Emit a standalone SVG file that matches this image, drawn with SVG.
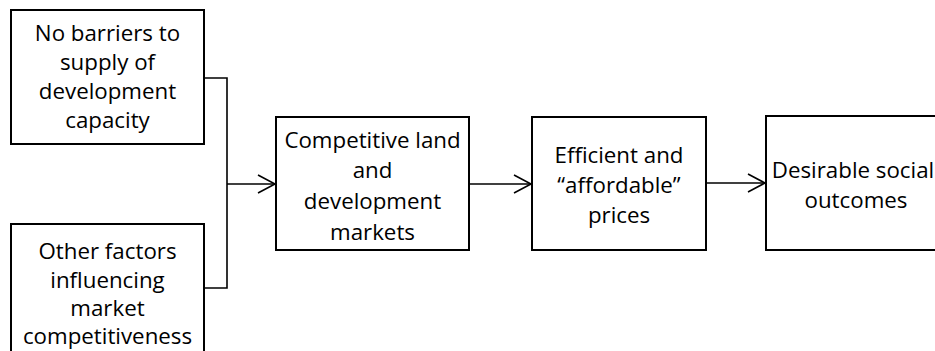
<svg xmlns="http://www.w3.org/2000/svg" width="935" height="351" viewBox="0 0 935 351">
  <defs>
    <marker id="open-arrow" markerUnits="userSpaceOnUse" markerWidth="20" markerHeight="20" viewBox="-18 -10 20 20" refX="0" refY="0" orient="auto">
      <path d="M-17,-9 L0,0 L-17,9" fill="none" stroke="#000" stroke-width="1.6"/>
    </marker>
  </defs>
  <style>
    .box { fill: #fff; stroke: #000; stroke-width: 2; }
    .label { font-family: "Open Sans", "Liberation Sans", sans-serif; font-size: 22.3px; fill: #000; text-anchor: middle; }
    .link { fill: none; stroke: #000; stroke-width: 1.6; }
  </style>
  <rect width="935" height="351" fill="#fff"/>

  <g id="connectors">
    <polyline class="link" points="204,78 227,78 227,288 204,288"/>
    <line class="link" x1="227" y1="184" x2="275" y2="184" marker-end="url(#open-arrow)"/>
    <line class="link" x1="470" y1="184" x2="531" y2="184" marker-end="url(#open-arrow)"/>
    <line class="link" x1="706" y1="183" x2="765" y2="183" marker-end="url(#open-arrow)"/>
  </g>

  <g id="no-barriers">
    <rect class="box" x="11" y="10" width="193" height="134"/>
    <text class="label" x="107.5" y="41">No barriers to</text>
    <text class="label" x="107.5" y="70">supply of</text>
    <text class="label" x="107.5" y="99">development</text>
    <text class="label" x="107.5" y="128">capacity</text>
  </g>

  <g id="other-factors">
    <rect class="box" x="11" y="224" width="193" height="140"/>
    <text class="label" x="107.5" y="259">Other factors</text>
    <text class="label" x="107.5" y="288">influencing</text>
    <text class="label" x="107.5" y="316">market</text>
    <text class="label" x="107.5" y="344">competitiveness</text>
  </g>

  <g id="competitive-markets">
    <rect class="box" x="276" y="117" width="193" height="133"/>
    <text class="label" x="372.5" y="148">Competitive land</text>
    <text class="label" x="372.5" y="178">and</text>
    <text class="label" x="372.5" y="209">development</text>
    <text class="label" x="372.5" y="240">markets</text>
  </g>

  <g id="efficient-prices">
    <rect class="box" x="532" y="117" width="174" height="133"/>
    <text class="label" x="619" y="163">Efficient and</text>
    <text class="label" x="619" y="193">“affordable”</text>
    <text class="label" x="619" y="223">prices</text>
  </g>

  <g id="social-outcomes">
    <rect class="box" x="766" y="116" width="185" height="134"/>
    <text class="label" x="853" y="178">Desirable social</text>
    <text class="label" x="856" y="208">outcomes</text>
  </g>
</svg>
